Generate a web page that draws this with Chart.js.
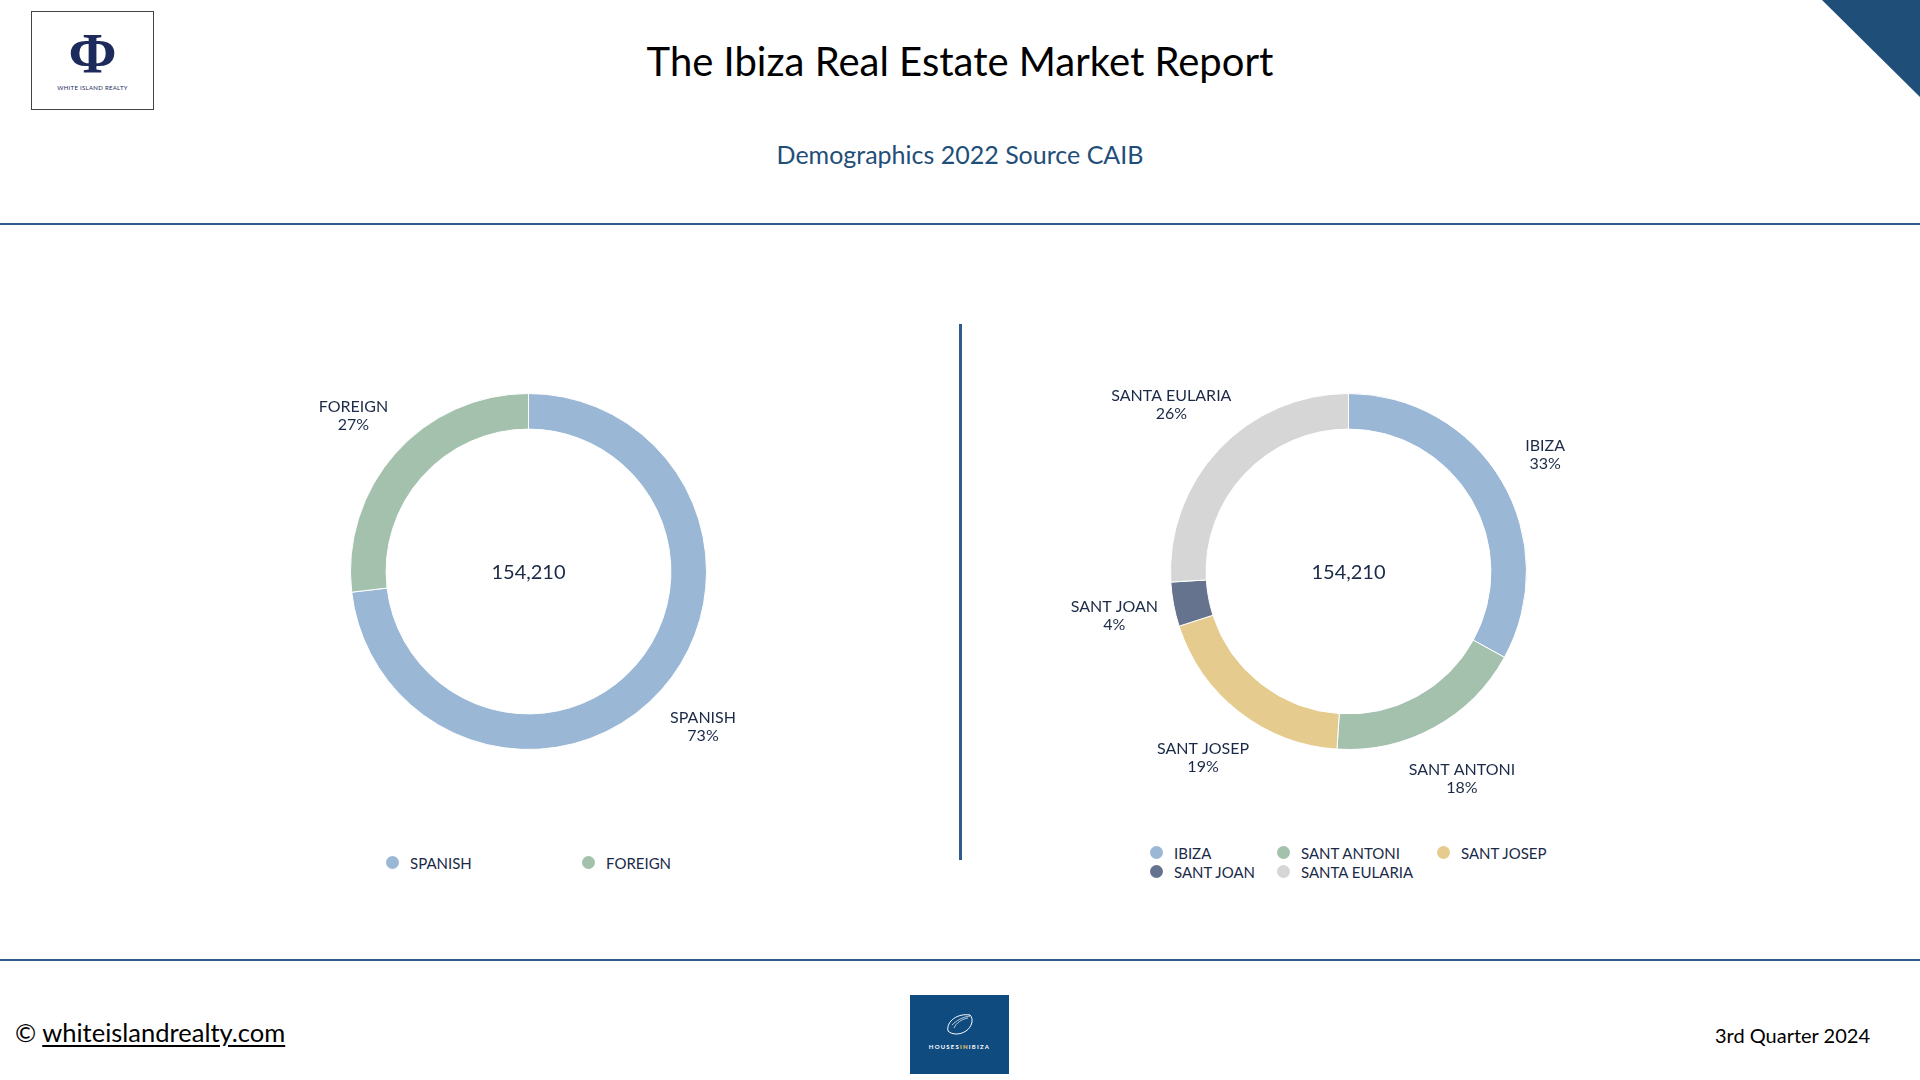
<!DOCTYPE html>
<html>
<head>
<meta charset="utf-8">
<title>The Ibiza Real Estate Market Report</title>
<script src="https://cdn.jsdelivr.net/npm/chart.js@4.4.1/dist/chart.umd.min.js"></script>
<style>
  body { margin: 0; width: 1920px; height: 1080px; position: relative; overflow: hidden; background: #fff; font-family: Lato, "Open Sans", sans-serif; color: #1b2a47; }
  .abs { position: absolute; }
  #logo { left: 31px; top: 11px; width: 121px; height: 97px; border: 1px solid #444; }
  #logo .phi { position: absolute; left: 0; right: 0; top: 12px; text-align: center; font: bold 58px "Liberation Serif", serif; color: #1c2a5c; line-height: 60px; }
  #logo .name { position: absolute; left: 0; right: 0; top: 72px; text-align: center; font-size: 6px; color: #1c2a5c; letter-spacing: 0.3px; }
  #corner { right: 0; top: 0; width: 0; height: 0; border-top: 97px solid #1f4e79; border-left: 98px solid transparent; }
  #title { left: 0; width: 1920px; top: 36px; text-align: center; font-size: 40px; color: #000; line-height: 50px; }
  #subtitle { left: 0; width: 1920px; top: 139px; text-align: center; font-size: 25px; color: #1f4e79; line-height: 30px; }
  .hline { left: 0; width: 1920px; height: 2px; background: #2f5b8d; }
  #vline { left: 959px; top: 324px; width: 3px; height: 536px; background: #2f5b8d; }
  canvas { position: absolute; }
  .legend { display: grid; font-size: 15px; color: #1b2a47; }
  .legend .item { display: flex; align-items: center; height: 19px; white-space: nowrap; }
  .legend .dot { width: 13px; height: 13px; border-radius: 50%; margin-right: 11px; }
  #footLeft { left: 15px; top: 1016px; font-size: 25.5px; color: #000; line-height: 32px; }
  #footLeft u { text-underline-offset: 3px; }
  #footRight { right: 50px; top: 1022px; font-size: 20px; color: #000; line-height: 26px; }
  #houses { left: 910px; top: 995px; width: 99px; height: 79px; background: #104b80; }
  #houses .txt { position: absolute; left: 0; right: 0; top: 48px; text-align: center; font-size: 6px; font-weight: bold; color: #fff; letter-spacing: 1.2px; }
  #houses .txt b { color: #e6c86e; }
</style>
</head>
<body>
<div id="logo" class="abs"><div class="phi">Φ</div><div class="name">WHITE ISLAND REALTY</div></div>
<div id="corner" class="abs"></div>
<div id="title" class="abs">The Ibiza Real Estate Market Report</div>
<div id="subtitle" class="abs">Demographics 2022 Source CAIB</div>
<div class="abs hline" style="top:223px"></div>
<div id="vline" class="abs"></div>
<div class="abs hline" style="top:959px"></div>

<canvas id="originChart" width="600" height="500" style="left:229px; top:322px"></canvas>
<canvas id="townChart" width="600" height="500" style="left:1049px; top:322px"></canvas>
<div id="originLegend" class="abs legend" style="left:386px; top:853px; grid-template-columns: 196px 196px;"></div>
<div id="townLegend" class="abs legend" style="left:1150px; top:843px; grid-template-columns: 127px 160px auto;"></div>

<div id="footLeft" class="abs">© <u>whiteislandrealty.com</u></div>
<div id="houses" class="abs">
  <svg width="99" height="50" style="position:absolute;left:0;top:0">
    <path d="M38 36 C36 26 48 18 60 20 C64 24 62 32 56 36 C50 40 42 40 38 36 Z" fill="none" stroke="#fff" stroke-width="1"/>
    <path d="M44 33 C46 28 52 24 58 23 M42 30 C46 26 52 22 60 21" fill="none" stroke="#fff" stroke-width="0.7"/>
  </svg>
  <div class="txt">HOUSES<b>IN</b>IBIZA</div>
</div>
<div id="footRight" class="abs">3rd Quarter 2024</div>

<script>
// Population 2022 by origin and by municipality
const originLabels = ['SPANISH', 'FOREIGN'];
const originValues = [112800, 41410];

const townLabels = ['IBIZA', 'SANT ANTONI', 'SANT JOSEP', 'SANT JOAN', 'SANTA EULARIA'];
const townValues = [50900, 27800, 29300, 6200, 40010];

const textColor = '#1b2a47';

// labels "NAME / xx%" outside each slice
const sliceLabels = {
  id: 'sliceLabels',
  afterDatasetsDraw(chart) {
    const ctx = chart.ctx;
    const meta = chart.getDatasetMeta(0);
    const data = chart.data.datasets[0].data;
    const total = data.reduce((a, b) => a + b, 0);
    ctx.save();
    ctx.font = '16px Lato';
    ctx.fillStyle = textColor;
    ctx.textAlign = 'center';
    ctx.textBaseline = 'middle';
    meta.data.forEach((arc, i) => {
      const p = arc.getProps(['x', 'y', 'startAngle', 'endAngle', 'outerRadius'], true);
      const mid = (p.startAngle + p.endAngle) / 2;
      const name = chart.data.labels[i];
      const pct = Math.round(data[i] / total * 100) + '%';
      const w = Math.max(ctx.measureText(name).width, ctx.measureText(pct).width);
      const h = 38;
      const cos = Math.cos(mid), sin = Math.sin(mid);
      // half of the box projection keeps wide labels from drifting too far
      const r = p.outerRadius + 37 + 0.5 * (Math.abs(cos) * w / 2 + Math.abs(sin) * h / 2);
      const cx = p.x + cos * r, cy = p.y + sin * r;
      ctx.fillText(name, cx, cy - 9);
      ctx.fillText(pct, cx, cy + 9);
    });
    ctx.restore();
  }
};

// total in the middle of the ring
const centerTotal = {
  id: 'centerTotal',
  afterDatasetsDraw(chart) {
    const arc = chart.getDatasetMeta(0).data[0];
    if (!arc) return;
    const total = chart.data.datasets[0].data.reduce((a, b) => a + b, 0);
    const ctx = chart.ctx;
    ctx.save();
    ctx.font = '20px Lato';
    ctx.fillStyle = textColor;
    ctx.textAlign = 'center';
    ctx.textBaseline = 'middle';
    ctx.fillText(total.toLocaleString('en-US'), arc.x, arc.y + 1);
    ctx.restore();
  }
};

function makeConfig(labels, values, colors) {
  return {
    type: 'doughnut',
    data: {
      labels: labels,
      datasets: [{
        data: values,
        backgroundColor: colors,
        borderColor: '#fff',
        borderWidth: 1
      }]
    },
    options: {
      responsive: false,
      animation: false,
      devicePixelRatio: 1,
      cutout: '80%',
      layout: {
        padding: { left: 121, right: 122, top: 71, bottom: 72 }
      },
      plugins: {
        legend: { display: false },
        tooltip: { enabled: false }
      }
    },
    plugins: [sliceLabels, centerTotal]
  };
}

// legend built from the chart's own legend items
function htmlLegend(chart, el) {
  const items = chart.options.plugins.legend.labels.generateLabels(chart);
  items.forEach(it => {
    const div = document.createElement('div');
    div.className = 'item';
    div.innerHTML = '<span class="dot" style="background:' + it.fillStyle + '"></span>' + it.text;
    el.appendChild(div);
  });
}

const originChart = new Chart(
  document.getElementById('originChart'),
  makeConfig(originLabels, originValues, ['#9bb7d6', '#a3c1ad'])
);
const townChart = new Chart(
  document.getElementById('townChart'),
  makeConfig(townLabels, townValues, ['#9bb7d6', '#a3c1ad', '#e6cb8e', '#66738f', '#d6d6d6'])
);

htmlLegend(originChart, document.getElementById('originLegend'));
htmlLegend(townChart, document.getElementById('townLegend'));
</script>
</body>
</html>
